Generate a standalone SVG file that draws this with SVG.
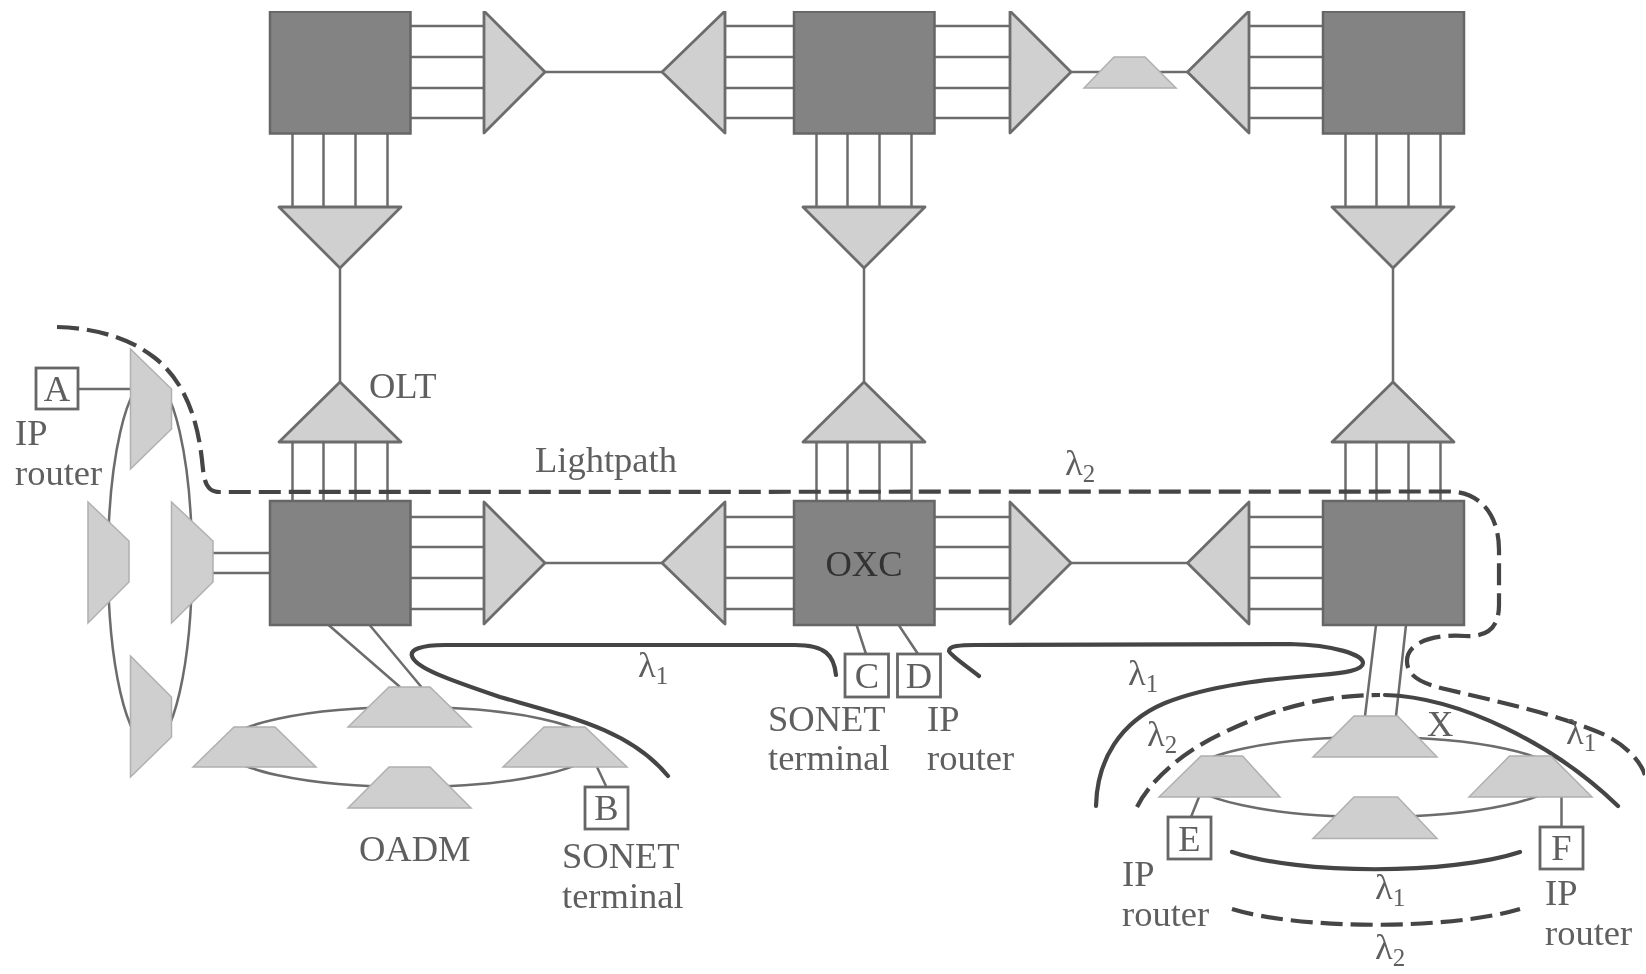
<svg xmlns="http://www.w3.org/2000/svg" width="1646" height="974" viewBox="0 0 1646 974">
<style>
text{font-family:"Liberation Serif","Times New Roman",serif;font-size:36.500px;fill:#5f5f5f}
.oxc{fill:#838383;stroke:#666;stroke-width:2.5}
.tri{fill:#d0d0d0;stroke:#6c6c6c;stroke-width:2.8;stroke-linejoin:round}
.trap{fill:#cfcfcf;stroke:#b0b0b0;stroke-width:1.5}
.box{fill:#fff;stroke:#666;stroke-width:2.8}
.l{fill:none;stroke:#6c6c6c;stroke-width:2.5}
.thick{fill:none;stroke:#444;stroke-width:4.2;stroke-linecap:round}
.dash{fill:none;stroke:#444;stroke-width:4.2;stroke-dasharray:22 8}
.sub{font-size:25px}
</style>
<defs><filter id="soft" x="0" y="0" width="100%" height="100%"><feGaussianBlur stdDeviation="0.7"/></filter></defs>
<rect width="1646" height="974" fill="#fff"/>
<g filter="url(#soft)">
<g id="connectors">
<path class="l" d="M410.5 26H484M410.5 57H484M410.5 88H484M410.5 118H484M725 26H794M725 57H794M725 88H794M725 118H794M934.5 26H1010M934.5 57H1010M934.5 88H1010M934.5 118H1010M1249 26H1323M1249 57H1323M1249 88H1323M1249 118H1323"/>
<path class="l" d="M410.5 517H484M410.5 547H484M410.5 578H484M410.5 609H484M725 517H794M725 547H794M725 578H794M725 609H794M934.5 517H1010M934.5 547H1010M934.5 578H1010M934.5 609H1010M1249 517H1323M1249 547H1323M1249 578H1323M1249 609H1323"/>
<path class="l" d="M545 72H662M1071 72H1187M545 563H662M1071 563H1187"/>
<path class="l" d="M292.500 134V207M323.500 134V207M355.500 134V207M387.500 134V207M816.500 134V207M847.500 134V207M879.500 134V207M911.500 134V207M1345.500 134V207M1376.500 134V207M1408.500 134V207M1440.500 134V207"/>
<path class="l" d="M292.500 442V501M323.500 442V501M355.500 442V501M387.500 442V501M816.500 442V501M847.500 442V501M879.500 442V501M911.500 442V501M1345.500 442V501M1376.500 442V501M1408.500 442V501M1440.500 442V501"/>
<path class="l" d="M340 268V382M864 268V382M1393 268V382"/>
<ellipse class="l" cx="150" cy="562" rx="42" ry="184"/>
<ellipse class="l" cx="409.500" cy="747" rx="186" ry="40"/>
<ellipse class="l" cx="1374" cy="777" rx="186" ry="40"/>
<path class="l" d="M213 553H270M213 573H270M78 389H130"/>
<path class="l" d="M328.600 625L400 687M369.600 625L421.400 687M597 767L606 786M856.600 625L866 654M898.700 625L918 654"/>
<path class="l" d="M1376 625L1365 716M1406 625L1396 716M1199 797L1191 817M1561.500 797V827"/>
<path class="dash" d="M57 327C95 328 130 338 155 358C183 380 197 415 202 460C204 480 205 492 220 492L1448 491.500C1480 491 1499 515 1499 550L1499 605C1499 630 1485 637 1465 636C1440 634 1407 640 1407 661C1407 678 1425 684 1445 689C1500 702 1560 715 1605 735C1625 745 1640 760 1645 775"/>
<path class="thick" d="M836 675C834 655 825 645 795 645L445 645C420 645 410 650 412 656C415 668 450 680 500 697C570 717 630 730 668 776"/>
<path class="thick" d="M979 676C965 665 950 655 949 651C949 646 960 645 975 645L1290 644C1335 645 1363 655 1363 663C1363 670 1345 673 1320 675C1270 679 1210 685 1165 703C1120 722 1097 760 1096 806"/>
<path class="dash" d="M1137 807C1150 780 1185 750 1225 732C1275 708 1325 695 1380 695"/>
<path class="thick" d="M1385 695C1460 697 1555 745 1618 806"/>
<path class="thick" d="M1232 852C1300 875 1450 875 1520 852"/>
<path class="dash" d="M1232 909C1300 930 1450 930 1520 909"/>
</g>
<g id="oxc-top-left"><rect class="oxc" x="270" y="11.500" width="140.500" height="122"/></g>
<g id="oxc-top-mid"><rect class="oxc" x="794" y="11.500" width="140.500" height="122"/></g>
<g id="oxc-top-right"><rect class="oxc" x="1323" y="11.500" width="141" height="122"/></g>
<g id="oxc-bottom-left"><rect class="oxc" x="270" y="501" width="140.500" height="124"/></g>
<g id="oxc-bottom-mid"><rect class="oxc" x="794" y="501" width="140.500" height="124"/><text x="864" y="576" text-anchor="middle" style="fill:#333">OXC</text></g>
<g id="oxc-bottom-right"><rect class="oxc" x="1323" y="501" width="141" height="124"/></g>
<g id="olt-top">
<polygon class="tri" points="484,11 545,72 484,133"/>
<polygon class="tri" points="725,11 662,72 725,133"/>
<polygon class="tri" points="1010,11 1071,72 1010,133"/>
<polygon class="tri" points="1249,11 1187.500,72 1249,133"/>
</g>
<g id="olt-bottom">
<polygon class="tri" points="484,502 545,563 484,624"/>
<polygon class="tri" points="725,502 662,563 725,624"/>
<polygon class="tri" points="1010,502 1071,563 1010,624"/>
<polygon class="tri" points="1249,502 1187.500,563 1249,624"/>
</g>
<g id="olt-down">
<polygon class="tri" points="279,207 401,207 340,268"/>
<polygon class="tri" points="803,207 925,207 864,268"/>
<polygon class="tri" points="1332,207 1454,207 1393,268"/>
</g>
<g id="olt-up">
<polygon class="tri" points="279,442 401,442 340,382"/>
<polygon class="tri" points="803,442 925,442 864,382"/>
<polygon class="tri" points="1332,442 1454,442 1393,382"/>
<text x="369" y="398">OLT</text>
</g>
<g id="amp"><polygon class="trap" points="1084,88 1114,57 1145,57 1176,88"/></g>
<g id="oadm-left-ring">
<polygon class="trap" points="130.500,349 171.500,389 171.500,429 130.500,469"/>
<polygon class="trap" points="88,502 129,541 129,582 88,623"/>
<polygon class="trap" points="171.500,502 213,541 213,582 171.500,623"/>
<polygon class="trap" points="130.500,656 171.500,697 171.500,737 130.500,777"/>
</g>
<g id="oadm-mid-ring">
<polygon class="trap" points="348,727 389,687 430,687 471,727"/>
<polygon class="trap" points="193,767 234,727 275,727 316,767"/>
<polygon class="trap" points="348,808 389,767 430,767 471,808"/>
<polygon class="trap" points="503,767 544,727 585,727 627,767"/>
<text x="359" y="861">OADM</text>
</g>
<g id="oadm-right-ring">
<polygon class="trap" points="1313,757 1354,716 1397.500,716 1437,757"/>
<polygon class="trap" points="1159,797 1201,756 1242.500,756 1280,797"/>
<polygon class="trap" points="1469,797 1509.500,756 1551,756 1592,797"/>
<polygon class="trap" points="1313,838.500 1354,797 1397.500,797 1437,838.500"/>
</g>
<g id="node-a"><rect class="box" x="36" y="368" width="42" height="41"/><text x="57" y="401" text-anchor="middle">A</text></g>
<g id="node-b"><rect class="box" x="585" y="787" width="43" height="42"/><text x="606.500" y="820" text-anchor="middle">B</text></g>
<g id="node-c"><rect class="box" x="845" y="654" width="43.500" height="43"/><text x="867" y="688" text-anchor="middle">C</text></g>
<g id="node-d"><rect class="box" x="897.500" y="654" width="43" height="43"/><text x="919" y="688" text-anchor="middle">D</text></g>
<g id="node-e"><rect class="box" x="1168" y="817" width="43" height="42"/><text x="1189.500" y="851" text-anchor="middle">E</text></g>
<g id="node-f"><rect class="box" x="1540" y="827" width="43" height="42"/><text x="1561.500" y="860" text-anchor="middle">F</text></g>
<g id="labels">
<text x="15" y="445">IP</text><text x="15" y="485">router</text>
<text x="535" y="472">Lightpath</text>
<text x="1065" y="475">λ<tspan class="sub" dy="7">2</tspan></text>
<text x="638" y="677">λ<tspan class="sub" dy="7">1</tspan></text>
<text x="1128" y="685">λ<tspan class="sub" dy="7">1</tspan></text>
<text x="1147" y="746">λ<tspan class="sub" dy="7">2</tspan></text>
<text x="1427" y="736">X</text>
<text x="1566" y="744">λ<tspan class="sub" dy="7">1</tspan></text>
<text x="1375" y="899">λ<tspan class="sub" dy="7">1</tspan></text>
<text x="1375" y="959">λ<tspan class="sub" dy="7">2</tspan></text>
<text x="768" y="731">SONET</text><text x="768" y="770">terminal</text>
<text x="927" y="731">IP</text><text x="927" y="770">router</text>
<text x="562" y="868">SONET</text><text x="562" y="908">terminal</text>
<text x="1122" y="886">IP</text><text x="1122" y="926">router</text>
<text x="1545" y="905">IP</text><text x="1545" y="945">router</text>
</g>
</g>
</svg>
